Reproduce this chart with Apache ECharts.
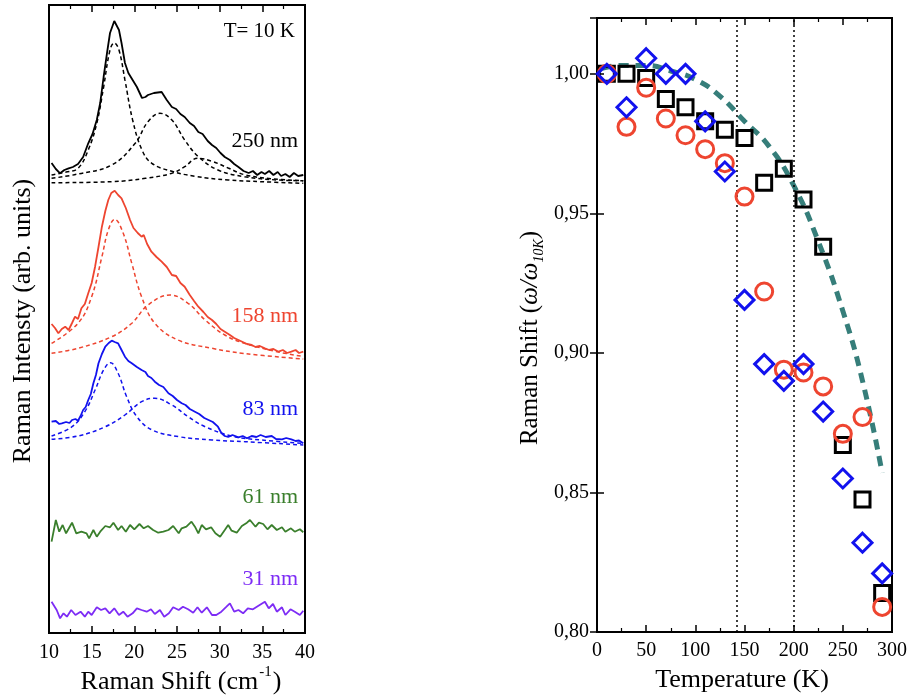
<!DOCTYPE html>
<html><head><meta charset="utf-8">
<script src="https://cdn.jsdelivr.net/npm/echarts@6/dist/echarts.min.js"></script>
<style>html,body{margin:0;padding:0;background:#fff}#c{width:910px;height:696px}</style>
</head><body><div id="c"></div>
<script>
// ---------- Left panel: Raman spectra (x: cm-1, y: arb. units with offsets) ----------
const s250 = [[10.3,470],[10.8,464],[11.3,459.7],[11.8,463],[12.3,464.7],[12.8,466],[13.4,469],[14.0,476],[14.6,489.7],[15.1,499],[15.6,513],[16.0,530],[16.4,556],[16.8,580],[17.15,600],[17.65,612],[18.2,603],[18.5,590],[18.9,570],[19.3,560],[19.8,553],[20.3,546],[20.9,535],[21.3,536],[21.6,538],[22.3,540],[23.2,541],[23.8,533],[24.4,526],[24.9,524],[25.4,519],[25.9,516],[26.5,510],[27.0,507],[27.5,501],[28.0,499],[28.6,492],[29.1,488],[29.6,485],[30.1,480],[30.6,476],[31.2,473],[31.7,469],[32.2,466],[32.8,462],[33.4,460],[33.9,462],[34.4,458],[34.9,461],[35.3,459],[35.8,462],[36.3,458],[36.8,461],[37.2,457],[37.7,459],[38.2,456],[38.7,460],[39.2,457],[39.8,458]];
const f250a = [[10.3,458],[12.0,461],[13.4,464.7],[14.6,483],[15.6,509.7],[16.4,546],[17.15,583],[17.65,590],[18.2,583],[18.9,553],[19.8,513],[20.9,483],[22.05,469.7],[24.4,461.7],[27.1,456.7],[31.0,453],[34.9,451.3],[39.8,449.7]];
const f250b = [[10.3,454.7],[13.4,459],[17.35,468],[20.1,489.7],[21.6,511.3],[23.0,519.7],[24.4,513],[25.9,493],[27.5,476.3],[29.8,463],[32.9,456.3],[36.8,453],[39.8,452.3]];
const f250c = [[10.3,450.3],[17.35,451.3],[21.3,454.7],[24.4,459.7],[25.9,466.3],[27.4,474.7],[29.1,471.7],[31.0,465],[32.9,458.3],[36.0,454.3],[39.8,452.3]];

const s158 = [[10.3,309],[10.7,305],[11.1,299.7],[11.5,304],[11.9,306.3],[12.3,303],[12.7,310],[13.05,316.3],[13.4,314],[13.8,324.7],[14.2,329],[14.6,339.7],[15.0,350],[15.4,366.3],[15.8,386],[16.2,406.3],[16.6,422],[16.95,433],[17.3,440],[17.7,442.3],[18.1,438],[18.5,434.7],[19.0,425],[19.5,413],[19.9,405],[20.4,400],[20.85,396.3],[21.1,398],[21.5,389],[22.0,381.3],[22.6,376],[23.2,371.3],[23.8,366],[24.4,358],[24.9,357],[25.4,350],[25.9,346.3],[26.5,338],[27.0,332],[27.5,326.3],[28.1,321],[28.6,316],[29.1,313],[29.6,309],[30.1,304],[30.6,301.3],[31.2,298],[31.7,295],[32.2,293],[32.7,291],[33.2,289],[33.75,288],[34.2,286],[34.7,287],[35.3,284.7],[35.8,283],[36.3,284],[36.9,281.3],[37.4,283],[37.9,280],[38.4,281.3],[38.9,283],[39.3,280],[39.8,281.3]];
const f158a = [[10.3,289.7],[13.4,309.7],[15.0,336.3],[16.2,376.3],[16.95,403],[17.7,413.7],[18.7,399.7],[19.7,369.7],[20.85,336.3],[22.4,309.7],[25.1,293],[29.1,284.7],[32.9,279.5],[39.8,274]];
const f158b = [[10.3,279.7],[13.4,284.7],[17.35,296.3],[19.7,309.7],[21.6,328],[24.2,338],[26.3,329.7],[28.3,313],[30.6,298],[32.9,289.7],[36.9,281],[39.8,276.5]];

const s83 = [[10.3,211.3],[10.8,212],[11.2,209],[11.5,209.7],[12.0,211],[12.4,210],[12.7,213],[13.1,214],[13.4,212.3],[13.7,217],[14.0,223],[14.3,226],[14.6,233],[14.9,239],[15.2,249.7],[15.5,258],[15.8,269.7],[16.2,279],[16.6,286.3],[17.0,290],[17.35,292.3],[17.7,291],[18.1,289.7],[18.5,283],[18.9,276.3],[19.3,272],[19.7,269.7],[20.3,266],[20.85,263],[21.3,261],[21.6,257],[22.0,255],[22.4,251.3],[22.9,248],[23.4,246],[24.0,239.7],[24.5,237],[25.0,233],[25.55,229.7],[26.0,228],[26.5,224],[27.1,221.3],[27.6,219],[28.2,215],[28.7,213],[29.2,211],[29.8,206.3],[30.2,200],[30.6,197],[31.0,196],[31.5,198],[32.2,195.7],[32.7,197],[33.2,194.7],[33.75,197],[34.3,196],[34.8,198],[35.4,196],[36.1,197],[36.6,194],[37.3,193.7],[37.8,195],[38.4,193.7],[38.9,192],[39.3,192.5],[39.8,189.7]];
const f83a = [[10.3,197],[12.7,206.3],[14.2,221.3],[15.4,243],[16.4,263],[17.2,270.3],[18.1,259.7],[19.1,236.3],[20.3,216.3],[22.1,203],[25.2,196.3],[29.1,193],[33.0,191.3],[39.8,188]];
const f83b = [[10.3,193.7],[13.4,197],[16.6,206.3],[18.9,218],[20.85,231.3],[22.4,234.7],[24.4,228],[26.3,216.3],[28.3,206.3],[31.4,197],[34.9,193],[39.8,189.7]];

const s61 = [[10.3,91.3],[10.8,113],[11.2,101.3],[11.6,108],[12.0,99.7],[12.7,110.3],[13.2,99.7],[13.8,101.3],[14.4,99.7],[14.7,94.7],[15.2,103],[15.6,96.3],[16.0,101.3],[16.6,107],[17.15,105.7],[17.55,110.3],[18.1,103],[18.5,107],[19.0,101.3],[19.5,108],[20.0,103.7],[20.6,109],[21.1,104.7],[21.6,107],[22.2,103],[22.8,100.3],[23.4,101.3],[24.0,103],[24.55,107],[25.2,99.7],[25.55,104.7],[26.1,106.3],[26.7,111.3],[27.1,106.3],[27.5,99.7],[27.9,108],[28.4,103.7],[29.0,105.7],[29.5,99.7],[30.05,96.3],[30.6,103],[31.0,108],[31.4,102.3],[32.0,100.3],[32.6,107],[33.2,110.3],[33.55,113],[34.2,106.3],[34.6,110.3],[35.1,109],[35.6,103.7],[36.1,108],[36.7,103],[37.3,105.7],[37.7,101.3],[38.35,104.7],[38.8,101.3],[39.4,103.7],[39.8,100.7]];
const s31 = [[10.3,31.3],[10.9,23],[11.3,14.7],[11.7,19.7],[12.1,16.3],[12.6,23],[13.1,18],[13.7,21.3],[14.2,16.3],[14.6,21.3],[15.0,18],[15.6,25.7],[16.1,23],[16.6,24.7],[17.1,19.7],[17.65,24.7],[18.2,18],[18.7,21.3],[19.2,16.3],[19.8,19.7],[20.3,24.7],[20.85,23],[21.45,21.3],[21.95,23.7],[22.4,19],[23.0,23],[23.5,16.3],[24.05,19.7],[24.55,25.7],[25.2,23],[25.7,26.3],[26.3,23.7],[26.9,20.3],[27.4,25.7],[27.9,20.3],[28.5,25.7],[29.1,18],[29.6,18],[30.2,21.3],[30.8,26.3],[31.2,29.7],[31.7,21.3],[32.2,23],[32.75,19.7],[33.3,24.7],[33.9,23.7],[34.5,27],[35.3,31.3],[35.75,24.7],[36.25,29],[36.7,21.3],[37.3,25.7],[37.7,18],[38.3,23.7],[38.8,21.3],[39.4,18],[39.8,22.3]];

const spectraLabels = ['T= 10 K','250 nm','158 nm','83 nm','61 nm','31 nm'];

// ---------- Right panel: normalized Raman shift vs temperature ----------
const temps = [10,30,50,70,90,110,130,150,170,190,210,230,250,270,290];
const squares = [1.000,1.000,0.9985,0.991,0.988,0.983,0.980,0.977,0.961,0.966,0.955,0.938,0.867,0.8475,0.814];
const circles = [1.000,0.981,0.995,0.984,0.978,0.973,0.968,0.956,0.922,0.894,0.893,0.888,0.871,0.877,0.809];
const diamonds = [1.000,0.988,1.0056,1.000,1.000,0.983,0.965,0.919,0.896,0.890,0.896,0.879,0.855,0.832,0.821];
const curveT = [5,25,50,75,100,125,150,175,200,225,250,270,290];
const curveV = [1.002,1.003,1.003,1.001,0.998,0.992,0.983,0.974,0.960,0.940,0.915,0.890,0.857];
const vlines = [142, 200];
const yTicks = ['0,80','0,85','0,90','0,95','1,00'];

const zip = (xs, ys) => xs.map((x, i) => [x, ys[i]]);
const SERIF = '"Liberation Serif", "DejaVu Serif", serif';
const C = {black:'#000000', red:'#ee4530', blue:'#1212ee', green:'#3a7f2c', purple:'#7d2cf5', teal:'#367e7a'};

function tickAxis(extra) {
  return Object.assign({
    type:'value',
    axisLine:{show:false},
    axisTick:{show:true, inside:true, length:7, lineStyle:{color:'#000', width:1.5}},
    minorTick:{show:false},
    splitLine:{show:false},
    axisLabel:{show:true, color:'#000', fontFamily:SERIF, fontSize:20}
  }, extra);
}

const solid = (data, color, name) => ({type:'line', name, xAxisIndex:0, yAxisIndex:0, data, showSymbol:false, symbol:'none', lineStyle:{color, width:1.8}, z:3});
const dashed = (data, color) => ({type:'line', xAxisIndex:0, yAxisIndex:0, data, showSymbol:false, symbol:'none', smooth:0.4, lineStyle:{color, width:1.5, type:[4,3]}, z:2});

const chart = echarts.init(document.getElementById('c'), null, {renderer:'canvas'});
chart.setOption({
  animation:false,
  backgroundColor:'#fff',
  grid:[
    {left:49, top:5, width:256, height:628, show:true, borderColor:'#000', borderWidth:2, backgroundColor:'transparent'},
    {left:597, top:18, width:296, height:614, show:true, borderColor:'#000', borderWidth:2, backgroundColor:'transparent'}
  ],
  xAxis:[
    tickAxis({gridIndex:0, min:10, max:40, interval:5, position:'bottom',
      minorTick:{show:true, splitNumber:2, length:4, lineStyle:{color:'#000', width:1.2}},
      axisLabel:{color:'#000', fontFamily:SERIF, fontSize:20, margin:10}}),
    tickAxis({gridIndex:0, min:10, max:40, interval:5, position:'top',
      minorTick:{show:true, splitNumber:2, length:4, lineStyle:{color:'#000', width:1.2}},
      axisLabel:{show:false}}),
    tickAxis({gridIndex:1, min:0, max:300, interval:50, position:'bottom',
      minorTick:{show:true, splitNumber:2, length:4, lineStyle:{color:'#000', width:1.2}},
      axisLabel:{color:'#000', fontFamily:SERIF, fontSize:20, margin:9}}),
    tickAxis({gridIndex:1, min:0, max:300, interval:50, position:'top',
      minorTick:{show:true, splitNumber:2, length:4, lineStyle:{color:'#000', width:1.2}},
      axisLabel:{show:false}})
  ],
  yAxis:[
    {type:'value', gridIndex:0, min:0, max:628, axisLine:{show:false}, axisTick:{show:false}, axisLabel:{show:false}, splitLine:{show:false}},
    tickAxis({gridIndex:1, min:0.8, max:1.02, interval:0.05, position:'left',
      axisLabel:{color:'#000', fontFamily:SERIF, fontSize:20, margin:8, showMaxLabel:false,
        formatter:v => { const i = Math.round((v - 0.8) / 0.05); return Math.abs(v - (0.8 + i*0.05)) < 1e-6 && yTicks[i] ? yTicks[i] : ''; }}}),
    tickAxis({gridIndex:1, min:0.8, max:1.02, interval:0.05, position:'right', axisLabel:{show:false}})
  ],
  series:[
    solid(s250, C.black, '250 nm'), dashed(f250a, C.black), dashed(f250b, C.black), dashed(f250c, C.black),
    solid(s158, C.red, '158 nm'), dashed(f158a, C.red), dashed(f158b, C.red),
    solid(s83, C.blue, '83 nm'), dashed(f83a, C.blue), dashed(f83b, C.blue),
    solid(s61, C.green, '61 nm'),
    solid(s31, C.purple, '31 nm'),
    {type:'line', xAxisIndex:2, yAxisIndex:1, data:zip(curveT, curveV), smooth:0.5, showSymbol:false, symbol:'none',
      lineStyle:{color:C.teal, width:5, type:[10,7]}, z:2,
      markLine:{silent:true, symbol:['none','none'], label:{show:false},
        lineStyle:{color:'#000', width:1.5, type:[2,3]}, data:vlines.map(v => ({xAxis:v}))}},
    {type:'scatter', xAxisIndex:2, yAxisIndex:1, data:zip(temps, squares), symbol:'rect', symbolSize:15,
      itemStyle:{color:'rgba(0,0,0,0)', borderColor:C.black, borderWidth:3, opacity:1}, z:4},
    {type:'scatter', xAxisIndex:2, yAxisIndex:1, data:zip(temps, circles), symbol:'circle', symbolSize:17,
      itemStyle:{color:'rgba(0,0,0,0)', borderColor:C.red, borderWidth:3, opacity:1}, z:5},
    {type:'scatter', xAxisIndex:2, yAxisIndex:1, data:zip(temps, diamonds), symbol:'diamond', symbolSize:19,
      itemStyle:{color:'rgba(0,0,0,0)', borderColor:C.blue, borderWidth:3, opacity:1}, z:6}
  ],
  graphic:[
    {type:'text', x:295, y:31, z:10, style:{text:spectraLabels[0], align:'right', verticalAlign:'middle', font:'21px ' + SERIF, fill:C.black}},
    {type:'text', x:298, y:141, z:10, style:{text:spectraLabels[1], align:'right', verticalAlign:'middle', font:'22px ' + SERIF, fill:C.black}},
    {type:'text', x:298, y:316, z:10, style:{text:spectraLabels[2], align:'right', verticalAlign:'middle', font:'22px ' + SERIF, fill:C.red}},
    {type:'text', x:298, y:409, z:10, style:{text:spectraLabels[3], align:'right', verticalAlign:'middle', font:'22px ' + SERIF, fill:C.blue}},
    {type:'text', x:298, y:497, z:10, style:{text:spectraLabels[4], align:'right', verticalAlign:'middle', font:'22px ' + SERIF, fill:C.green}},
    {type:'text', x:298, y:579, z:10, style:{text:spectraLabels[5], align:'right', verticalAlign:'middle', font:'22px ' + SERIF, fill:C.purple}},
    {type:'text', x:23, y:321, rotation:Math.PI/2, z:10, style:{text:'Raman Intensty (arb. units)', align:'center', verticalAlign:'middle', font:'26px ' + SERIF, fill:'#000'}},
    {type:'text', x:181, y:680, z:10, style:{text:'{a|Raman Shift (cm}{s|-1}{a|)}', align:'center', verticalAlign:'middle', fill:'#000',
      rich:{a:{fontFamily:SERIF, fontSize:26, verticalAlign:'bottom', fill:'#000'}, s:{fontFamily:SERIF, fontSize:15, verticalAlign:'bottom', padding:[0,1,15,1], fill:'#000'}}}},
    {type:'text', x:742, y:680, z:10, style:{text:'Temperature (K)', align:'center', verticalAlign:'middle', font:'26px ' + SERIF, fill:'#000'}},
    {type:'text', x:532, y:338, rotation:Math.PI/2, z:10, style:{text:'{a|Raman Shift (}{i|ω/ω}{s|10K}{a|)}', align:'center', verticalAlign:'middle', fill:'#000',
      rich:{a:{fontFamily:SERIF, fontSize:25, verticalAlign:'bottom', padding:[0,0,3,0], fill:'#000'},
            i:{fontFamily:SERIF, fontSize:25, fontStyle:'italic', verticalAlign:'bottom', padding:[0,0,3,0], fill:'#000'},
            s:{fontFamily:SERIF, fontSize:14, fontStyle:'italic', verticalAlign:'bottom', fill:'#000'}}}}
  ]
});
</script></body></html>
